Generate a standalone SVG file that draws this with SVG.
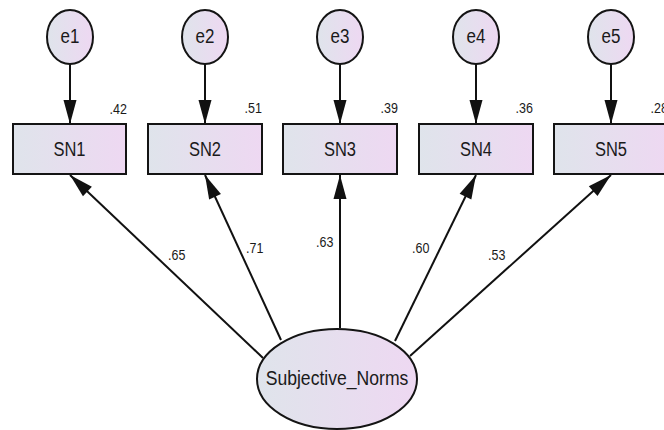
<svg xmlns="http://www.w3.org/2000/svg" width="664" height="430" viewBox="0 0 664 430">
  <defs>
    <linearGradient id="fillGrad" x1="0" y1="0" x2="1" y2="0">
      <stop offset="0" stop-color="#dfe4eb"/>
      <stop offset="1" stop-color="#eed8f2"/>
    </linearGradient>
    <marker id="arrow" markerUnits="userSpaceOnUse" markerWidth="24" markerHeight="13" refX="24" refY="6.5" orient="auto" overflow="visible">
      <path d="M0,0 L24,6.5 L0,13 Z" fill="#111"/>
    </marker>
  </defs>
  <style>
    .shape { fill: url(#fillGrad); stroke: #141414; stroke-width: 2; }
    .conn { stroke: #111; stroke-width: 2; fill: none; marker-end: url(#arrow); }
    .name { font-family: "Liberation Sans", Arial, sans-serif; fill: #1a1a1a; text-anchor: middle; }
    .coef { font-family: "Liberation Sans", Arial, sans-serif; font-size: 12.5px; fill: #1a1a1a; }
    .r2 { text-anchor: end; }
  </style>
  <rect width="664" height="430" fill="#ffffff"/>

  <!-- connectors -->
  <g id="connectors">
    <line class="conn" x1="70" y1="64" x2="70" y2="124"/>
    <line class="conn" x1="205" y1="64" x2="205" y2="124"/>
    <line class="conn" x1="340" y1="64" x2="340" y2="124"/>
    <line class="conn" x1="476" y1="64" x2="476" y2="124"/>
    <line class="conn" x1="611" y1="64" x2="611" y2="124"/>
    <line class="conn" x1="263" y1="358" x2="70" y2="175"/>
    <line class="conn" x1="281" y1="340" x2="205" y2="175"/>
    <line class="conn" x1="340" y1="328" x2="340" y2="175"/>
    <line class="conn" x1="395" y1="341" x2="476" y2="175"/>
    <line class="conn" x1="410" y1="356" x2="611" y2="175"/>
    <!-- loadings -->
    <text class="coef" transform="translate(168,260) scale(1,1.15)">.65</text>
    <text class="coef" transform="translate(246,253) scale(1,1.15)">.71</text>
    <text class="coef" transform="translate(316,247) scale(1,1.15)">.63</text>
    <text class="coef" transform="translate(412,253) scale(1,1.15)">.60</text>
    <text class="coef" transform="translate(488,260) scale(1,1.15)">.53</text>
  </g>

  <!-- error terms -->
  <g id="e1">
    <ellipse class="shape" cx="70" cy="37" rx="23" ry="27"/>
    <text class="name" font-size="17" transform="translate(70,43) scale(1,1.15)">e1</text>
  </g>
  <g id="e2">
    <ellipse class="shape" cx="205" cy="37" rx="23" ry="27"/>
    <text class="name" font-size="17" transform="translate(205,43) scale(1,1.15)">e2</text>
  </g>
  <g id="e3">
    <ellipse class="shape" cx="340" cy="37" rx="23" ry="27"/>
    <text class="name" font-size="17" transform="translate(340,43) scale(1,1.15)">e3</text>
  </g>
  <g id="e4">
    <ellipse class="shape" cx="476" cy="37" rx="23" ry="27"/>
    <text class="name" font-size="17" transform="translate(476,43) scale(1,1.15)">e4</text>
  </g>
  <g id="e5">
    <ellipse class="shape" cx="611" cy="37" rx="23" ry="27"/>
    <text class="name" font-size="17" transform="translate(611,43) scale(1,1.15)">e5</text>
  </g>

  <!-- observed indicators -->
  <g id="SN1">
    <rect class="shape" x="13" y="124" width="113" height="50"/>
    <text class="name" font-size="16.5" transform="translate(69.5,156) scale(1,1.2)">SN1</text>
    <text class="coef r2" transform="translate(127,114) scale(1,1.15)">.42</text>
  </g>
  <g id="SN2">
    <rect class="shape" x="148" y="124" width="114" height="50"/>
    <text class="name" font-size="16.5" transform="translate(205,156) scale(1,1.2)">SN2</text>
    <text class="coef r2" transform="translate(262,113) scale(1,1.15)">.51</text>
  </g>
  <g id="SN3">
    <rect class="shape" x="283" y="124" width="114" height="50"/>
    <text class="name" font-size="16.5" transform="translate(340,156) scale(1,1.2)">SN3</text>
    <text class="coef r2" transform="translate(398,113) scale(1,1.15)">.39</text>
  </g>
  <g id="SN4">
    <rect class="shape" x="419" y="124" width="114" height="50"/>
    <text class="name" font-size="16.5" transform="translate(476,156) scale(1,1.2)">SN4</text>
    <text class="coef r2" transform="translate(533,113) scale(1,1.15)">.36</text>
  </g>
  <g id="SN5">
    <rect class="shape" x="554" y="124" width="114" height="50"/>
    <text class="name" font-size="16.5" transform="translate(611,156) scale(1,1.2)">SN5</text>
    <text class="coef r2" transform="translate(668,113) scale(1,1.15)">.28</text>
  </g>

  <!-- latent factor -->
  <g id="Subjective_Norms">
    <ellipse class="shape" cx="337" cy="379" rx="80" ry="50"/>
    <text class="name" font-size="17.6" transform="translate(337,385) scale(1,1.18)">Subjective_Norms</text>
  </g>
</svg>
